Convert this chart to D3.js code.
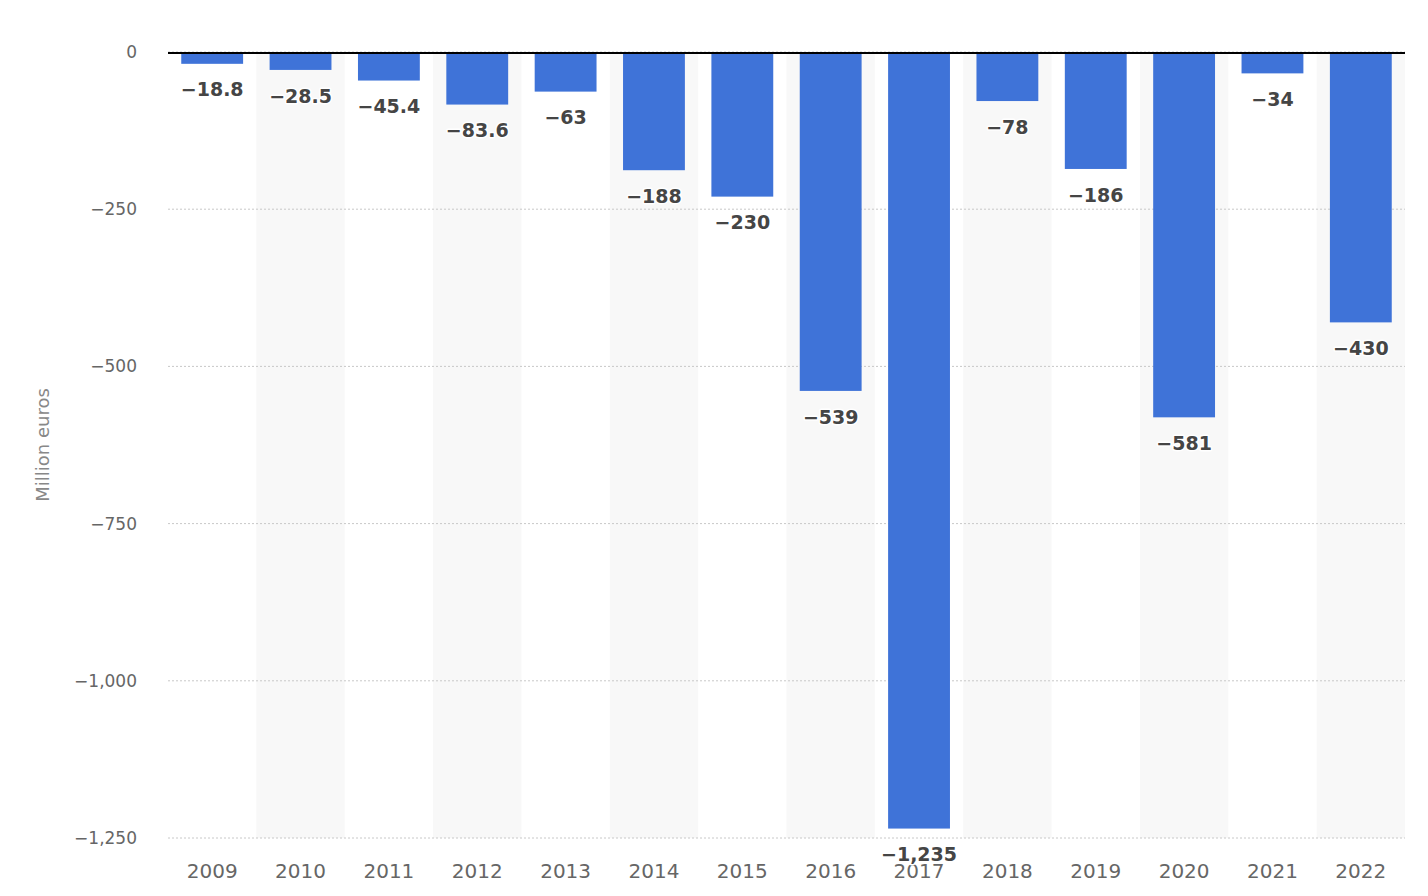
<!DOCTYPE html>
<html><head><meta charset="utf-8">
<script src="https://cdn.jsdelivr.net/npm/d3@7"></script>
<style>
html,body{margin:0;padding:0;background:#fff;}
svg text{font-family:"DejaVu Sans",sans-serif;}
</style></head>
<body>
<svg id="chart" width="1428" height="896"></svg>
<script>
const years = ["2009","2010","2011","2012","2013","2014","2015","2016","2017","2018","2019","2020","2021","2022"];
const values = [-18.8,-28.5,-45.4,-83.6,-63,-188,-230,-539,-1235,-78,-186,-581,-34,-430];
const valueLabels = ["−18.8","−28.5","−45.4","−83.6","−63","−188","−230","−539","−1,235","−78","−186","−581","−34","−430"];
const yTicks = [0,-250,-500,-750,-1000,-1250];
const yTickLabels = ["0","−250","−500","−750","−1,000","−1,250"];
const yTitle = "Million euros";

(function(){
const svg = d3.select("#chart");
const mLeft = 168, mRight = 1405, mTop = 52, mBottom = 838;

const x = d3.scaleBand().domain(years).range([mLeft, mRight]).paddingInner(0.3).paddingOuter(0.15);
const xb = d3.scaleBand().domain(years).range([mLeft, mRight]).padding(0);
const y = d3.scaleLinear().domain([0,-1250]).range([mTop,mBottom]);

svg.append("g").selectAll("rect").data(years.filter((d,i)=>i%2===1)).join("rect")
  .attr("x", d=>xb(d)).attr("width", xb.bandwidth())
  .attr("y", mTop).attr("height", mBottom-mTop).attr("fill","#f8f8f8");

const yAxis = d3.axisLeft(y).tickValues(yTicks).tickFormat((d,i)=>yTickLabels[i]).tickSize(0).tickPadding(0);
const gy = svg.append("g").attr("transform",`translate(137,0)`).call(yAxis);
gy.select(".domain").remove();
gy.selectAll("text").attr("font-size",17).attr("fill","#666").attr("dy","0.32em");

svg.append("g").selectAll("line").data(yTicks).join("line")
  .attr("x1",mLeft).attr("x2",mRight).attr("y1",d=>y(d)).attr("y2",d=>y(d))
  .attr("stroke","#c8c8c8").attr("stroke-width",1).attr("stroke-dasharray","2,2");

svg.append("g").selectAll("rect").data(values).join("rect")
  .attr("x",(d,i)=>x(years[i])).attr("width",x.bandwidth())
  .attr("y",y(0)).attr("height",d=>y(d)-y(0)).attr("fill","#3f73d8");

svg.append("line").attr("x1",mLeft).attr("x2",mRight).attr("y1",y(0)+1).attr("y2",y(0)+1)
  .attr("stroke","#000").attr("stroke-width",2);

const xAxis = d3.axisBottom(xb).tickSize(0).tickPadding(0);
const gx = svg.append("g").attr("transform",`translate(0,871)`).call(xAxis);
gx.select(".domain").remove();
gx.selectAll("text").attr("font-size",20).attr("fill","#666").attr("dy","0.35em");

svg.append("g").selectAll("text").data(values).join("text")
  .attr("x",(d,i)=>x(years[i])+x.bandwidth()/2)
  .attr("y",d=>y(d)+26)
  .attr("dy","0.35em")
  .attr("text-anchor","middle")
  .attr("font-size",19).attr("font-weight","bold").attr("fill","#454545")
  .attr("stroke","#fff").attr("stroke-width",3).attr("paint-order","stroke").attr("stroke-linejoin","round")
  .text((d,i)=>valueLabels[i]);

svg.append("text").attr("transform","translate(43,445) rotate(-90)")
  .attr("text-anchor","middle").attr("dy","0.35em")
  .attr("font-size",18).attr("fill","#888").text(yTitle);
})();
</script>
</body></html>
